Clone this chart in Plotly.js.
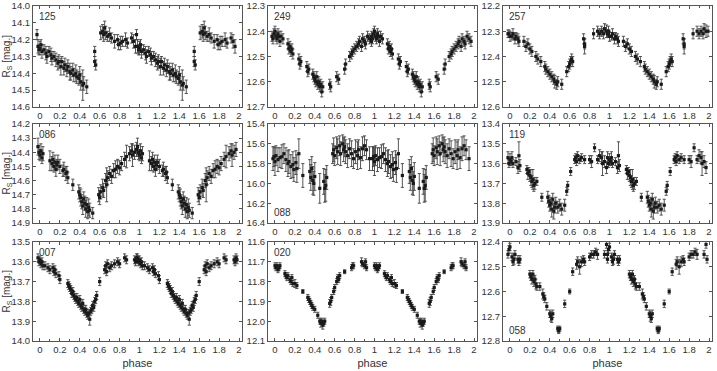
<!DOCTYPE html>
<html><head><meta charset="utf-8">
<script src="https://cdn.plot.ly/plotly-3.0.1.min.js"></script>
<style>html,body{margin:0;padding:0;background:#fff}#chart{width:717px;height:371px}</style>
</head><body><div id="chart"></div>
<script>
// ---- data: one phase cycle per star, shown twice (phase and phase+1) ----
const labels = ["125","249","257","086","088","119","007","020","058"];

const p125 = [-0.03,-0.02,-0.01,0.00,0.01,0.02,0.04,0.06,0.07,0.09,0.11,0.12,0.14,0.16,0.18,0.19,0.21,0.22,0.24,0.25,0.27,0.28,0.30,0.31,0.33,0.34,0.36,0.37,0.39,0.40,0.41,0.43,0.44,0.47,0.55,0.55,0.56,0.61,0.63,0.64,0.65,0.66,0.68,0.70,0.72,0.75,0.78,0.79,0.81,0.83,0.86,0.88,0.92,0.94,0.96];
const m125 = [14.17,14.24,14.26,14.25,14.23,14.27,14.26,14.28,14.30,14.27,14.29,14.31,14.30,14.32,14.34,14.33,14.36,14.33,14.37,14.35,14.38,14.36,14.39,14.40,14.38,14.41,14.40,14.42,14.43,14.41,14.45,14.47,14.46,14.48,14.27,14.33,14.35,14.16,14.15,14.17,14.13,14.16,14.18,14.17,14.19,14.21,14.20,14.23,14.22,14.21,14.20,14.22,14.19,14.21,14.24];
const e125 = [0.03,0.04,0.03,0.04,0.03,0.04,0.03,0.04,0.04,0.03,0.04,0.04,0.03,0.04,0.04,0.04,0.05,0.03,0.04,0.04,0.04,0.04,0.05,0.04,0.04,0.04,0.05,0.04,0.04,0.05,0.05,0.09,0.04,0.04,0.03,0.03,0.03,0.04,0.04,0.04,0.04,0.04,0.03,0.04,0.03,0.04,0.03,0.03,0.04,0.03,0.04,0.03,0.03,0.04,0.04];

const p249 = [-0.03,-0.02,-0.01,0.00,0.01,0.02,0.03,0.04,0.05,0.06,0.08,0.13,0.14,0.15,0.16,0.17,0.18,0.24,0.25,0.26,0.32,0.33,0.34,0.38,0.39,0.40,0.41,0.42,0.43,0.44,0.45,0.46,0.47,0.48,0.55,0.56,0.62,0.64,0.70,0.71,0.75,0.77,0.78,0.80,0.82,0.84,0.85,0.87,0.88,0.90,0.91,0.93,0.95,0.97];
const m249 = [12.42,12.43,12.41,12.40,12.42,12.43,12.41,12.42,12.44,12.42,12.43,12.45,12.47,12.46,12.48,12.47,12.49,12.51,12.53,12.52,12.54,12.56,12.55,12.57,12.58,12.59,12.60,12.58,12.61,12.60,12.62,12.61,12.64,12.62,12.61,12.62,12.58,12.59,12.55,12.53,12.50,12.49,12.48,12.47,12.46,12.45,12.44,12.46,12.43,12.44,12.45,12.42,12.43,12.44];
const e249 = [0.02,0.02,0.02,0.02,0.02,0.02,0.02,0.02,0.02,0.02,0.02,0.02,0.02,0.02,0.02,0.02,0.02,0.02,0.02,0.02,0.02,0.02,0.02,0.02,0.02,0.02,0.02,0.02,0.02,0.02,0.02,0.02,0.02,0.02,0.02,0.02,0.02,0.02,0.02,0.02,0.02,0.02,0.02,0.02,0.02,0.02,0.02,0.02,0.02,0.02,0.02,0.02,0.02,0.02];

const p257 = [-0.02,-0.01,0.00,0.02,0.03,0.05,0.06,0.08,0.09,0.14,0.16,0.18,0.20,0.22,0.26,0.28,0.31,0.35,0.36,0.38,0.40,0.42,0.44,0.45,0.47,0.48,0.52,0.57,0.59,0.60,0.61,0.62,0.63,0.74,0.75,0.75,0.84,0.88,0.90,0.92,0.94,0.95,0.97,0.99];
const m257 = [12.31,12.31,12.32,12.32,12.31,12.33,12.32,12.33,12.34,12.34,12.36,12.35,12.37,12.38,12.40,12.41,12.42,12.44,12.45,12.46,12.47,12.48,12.49,12.50,12.51,12.50,12.51,12.46,12.44,12.43,12.42,12.41,12.42,12.33,12.35,12.36,12.31,12.30,12.31,12.30,12.31,12.29,12.30,12.30];
const e257 = [0.015,0.015,0.02,0.015,0.02,0.02,0.015,0.02,0.02,0.02,0.02,0.02,0.02,0.02,0.02,0.02,0.02,0.02,0.02,0.02,0.02,0.02,0.02,0.025,0.02,0.02,0.02,0.02,0.02,0.02,0.02,0.02,0.02,0.02,0.02,0.03,0.02,0.02,0.02,0.02,0.02,0.02,0.025,0.02];

const p086 = [-0.02,-0.01,0.00,0.01,0.02,0.03,0.10,0.12,0.13,0.14,0.15,0.16,0.17,0.18,0.20,0.23,0.24,0.26,0.27,0.28,0.33,0.39,0.40,0.41,0.42,0.43,0.44,0.45,0.46,0.47,0.48,0.49,0.50,0.53,0.59,0.60,0.61,0.63,0.64,0.66,0.67,0.68,0.70,0.72,0.74,0.76,0.78,0.80,0.82,0.85,0.87,0.90,0.92,0.93,0.95,0.97];
const m086 = [14.36,14.40,14.42,14.39,14.44,14.41,14.46,14.48,14.45,14.50,14.47,14.52,14.49,14.47,14.50,14.53,14.52,14.55,14.54,14.58,14.63,14.68,14.70,14.72,14.75,14.78,14.73,14.76,14.80,14.77,14.82,14.79,14.81,14.83,14.70,14.72,14.68,14.65,14.67,14.60,14.63,14.58,14.55,14.57,14.53,14.52,14.50,14.51,14.48,14.45,14.43,14.41,14.39,14.42,14.40,14.38];
const e086 = [0.06,0.05,0.04,0.05,0.04,0.05,0.07,0.05,0.05,0.04,0.05,0.05,0.04,0.05,0.05,0.04,0.05,0.05,0.04,0.04,0.04,0.05,0.05,0.06,0.05,0.06,0.05,0.05,0.06,0.05,0.05,0.06,0.05,0.04,0.05,0.05,0.05,0.06,0.05,0.05,0.12,0.05,0.05,0.05,0.05,0.06,0.05,0.05,0.05,0.05,0.08,0.05,0.05,0.08,0.05,0.05];

const p088 = [-0.02,-0.01,0.00,0.01,0.03,0.05,0.07,0.09,0.11,0.13,0.14,0.16,0.18,0.19,0.21,0.22,0.24,0.28,0.35,0.36,0.37,0.38,0.39,0.40,0.45,0.49,0.50,0.51,0.52,0.58,0.59,0.60,0.62,0.63,0.65,0.66,0.68,0.69,0.70,0.71,0.73,0.75,0.77,0.79,0.81,0.83,0.84,0.86,0.88,0.90,0.92,0.95];
const m088 = [15.75,15.73,15.78,15.72,15.76,15.74,15.73,15.70,15.76,15.80,15.78,15.83,15.81,15.86,15.79,15.85,15.70,15.92,15.88,15.94,15.85,15.97,16.00,15.93,16.05,15.98,16.05,16.02,15.94,15.70,15.66,15.72,15.64,15.68,15.62,15.70,15.60,15.66,15.63,15.68,15.72,15.65,15.70,15.75,15.68,15.72,15.66,15.74,15.65,15.62,15.66,15.75];
const e088 = [0.12,0.10,0.14,0.10,0.12,0.10,0.12,0.10,0.12,0.13,0.12,0.12,0.13,0.12,0.12,0.14,0.15,0.12,0.12,0.13,0.12,0.14,0.12,0.14,0.15,0.13,0.14,0.16,0.12,0.10,0.12,0.10,0.11,0.13,0.10,0.12,0.09,0.12,0.10,0.12,0.12,0.10,0.13,0.10,0.12,0.14,0.10,0.11,0.12,0.10,0.10,0.12];

const p119 = [-0.02,-0.01,0.00,0.01,0.02,0.03,0.06,0.08,0.09,0.10,0.17,0.18,0.19,0.20,0.21,0.22,0.23,0.24,0.25,0.27,0.32,0.38,0.39,0.40,0.41,0.42,0.43,0.44,0.45,0.46,0.48,0.50,0.52,0.55,0.57,0.58,0.61,0.65,0.66,0.67,0.68,0.70,0.72,0.75,0.80,0.82,0.85,0.88,0.90,0.92,0.93,0.95,0.97];
const m119 = [13.57,13.60,13.58,13.59,13.57,13.60,13.59,13.62,13.56,13.61,13.63,13.65,13.64,13.66,13.67,13.69,13.68,13.71,13.70,13.69,13.77,13.77,13.79,13.81,13.80,13.83,13.78,13.84,13.82,13.80,13.82,13.81,13.83,13.81,13.74,13.71,13.64,13.58,13.57,13.59,13.56,13.58,13.57,13.58,13.58,13.59,13.52,13.58,13.56,13.57,13.60,13.59,13.62];
const e119 = [0.03,0.02,0.03,0.02,0.03,0.02,0.02,0.03,0.07,0.03,0.02,0.03,0.02,0.03,0.04,0.03,0.05,0.03,0.03,0.02,0.02,0.03,0.03,0.03,0.03,0.04,0.03,0.04,0.03,0.03,0.03,0.03,0.03,0.03,0.02,0.02,0.02,0.02,0.02,0.02,0.02,0.02,0.02,0.02,0.02,0.03,0.02,0.02,0.03,0.03,0.06,0.03,0.03];

const p007 = [-0.02,-0.01,0.00,0.01,0.02,0.03,0.05,0.08,0.10,0.13,0.14,0.15,0.16,0.19,0.20,0.28,0.29,0.30,0.31,0.32,0.33,0.34,0.35,0.36,0.37,0.38,0.39,0.40,0.41,0.42,0.43,0.44,0.45,0.46,0.47,0.48,0.49,0.50,0.51,0.52,0.53,0.54,0.55,0.56,0.57,0.60,0.65,0.66,0.67,0.68,0.70,0.72,0.75,0.78,0.80,0.85,0.87,0.95,0.96,0.97,0.98];
const m007 = [13.58,13.60,13.59,13.61,13.60,13.62,13.62,13.63,13.64,13.63,13.65,13.64,13.66,13.67,13.69,13.71,13.72,13.73,13.74,13.76,13.75,13.77,13.78,13.79,13.78,13.80,13.81,13.79,13.82,13.83,13.81,13.84,13.85,13.84,13.86,13.87,13.86,13.89,13.85,13.84,13.82,13.83,13.80,13.79,13.77,13.70,13.64,13.62,13.65,13.61,13.63,13.62,13.61,13.60,13.61,13.58,13.59,13.59,13.60,13.58,13.59];
const e007 = [0.02,0.02,0.02,0.02,0.02,0.02,0.02,0.02,0.02,0.02,0.02,0.02,0.02,0.02,0.02,0.02,0.02,0.02,0.02,0.02,0.02,0.02,0.02,0.02,0.02,0.02,0.02,0.02,0.02,0.02,0.02,0.02,0.02,0.02,0.02,0.02,0.02,0.03,0.02,0.02,0.02,0.02,0.02,0.02,0.02,0.02,0.02,0.02,0.02,0.02,0.02,0.02,0.02,0.02,0.02,0.02,0.02,0.02,0.02,0.02,0.02];

const p020 = [0.00,0.01,0.02,0.03,0.04,0.05,0.10,0.11,0.12,0.13,0.15,0.16,0.17,0.18,0.20,0.22,0.28,0.33,0.34,0.35,0.36,0.37,0.38,0.40,0.43,0.45,0.46,0.47,0.48,0.49,0.50,0.55,0.56,0.57,0.59,0.60,0.62,0.63,0.64,0.65,0.70,0.77,0.78,0.79,0.87,0.88,0.90,0.91,0.92];
const m020 = [11.72,11.73,11.72,11.74,11.73,11.72,11.76,11.77,11.78,11.77,11.79,11.80,11.78,11.81,11.81,11.82,11.85,11.88,11.89,11.90,11.91,11.92,11.93,11.94,11.97,12.00,12.01,12.00,12.02,12.01,12.00,11.91,11.90,11.88,11.85,11.83,11.80,11.78,11.79,11.77,11.75,11.73,11.72,11.72,11.70,11.71,11.72,11.70,11.73];
const e020 = [0.015,0.015,0.015,0.015,0.015,0.015,0.015,0.015,0.015,0.015,0.015,0.015,0.015,0.015,0.02,0.015,0.01,0.015,0.015,0.015,0.015,0.015,0.015,0.015,0.015,0.015,0.02,0.015,0.02,0.015,0.015,0.02,0.02,0.015,0.015,0.015,0.015,0.015,0.015,0.015,0.01,0.015,0.015,0.015,0.02,0.015,0.015,0.015,0.015];

const p058 = [-0.02,-0.01,0.00,0.02,0.03,0.04,0.05,0.08,0.09,0.10,0.20,0.21,0.22,0.23,0.24,0.25,0.26,0.27,0.30,0.33,0.34,0.35,0.37,0.40,0.41,0.42,0.43,0.48,0.49,0.50,0.55,0.60,0.63,0.67,0.68,0.70,0.72,0.74,0.75,0.80,0.82,0.84,0.86,0.88,0.95,0.97,0.98];
const m058 = [12.45,12.43,12.42,12.46,12.48,12.47,12.45,12.47,12.48,12.47,12.53,12.54,12.55,12.53,12.56,12.55,12.57,12.58,12.58,12.61,12.62,12.63,12.66,12.69,12.70,12.71,12.69,12.75,12.76,12.75,12.65,12.60,12.52,12.49,12.48,12.50,12.48,12.47,12.48,12.46,12.45,12.45,12.44,12.45,12.45,12.41,12.47];
const e058 = [0.015,0.015,0.015,0.015,0.015,0.02,0.015,0.015,0.015,0.015,0.015,0.015,0.02,0.015,0.02,0.015,0.02,0.015,0.015,0.02,0.015,0.015,0.015,0.015,0.02,0.015,0.015,0.01,0.01,0.01,0.015,0.01,0.015,0.02,0.02,0.03,0.02,0.015,0.015,0.015,0.015,0.015,0.015,0.02,0.015,0.015,0.015];

const phases = [p125,p249,p257,p086,p088,p119,p007,p020,p058];
const mags   = [m125,m249,m257,m086,m088,m119,m007,m020,m058];
const errs   = [e125,e249,e257,e086,e088,e119,e007,e020,e058];
const yRanges = [[14.6,14.0],[12.7,12.3],[12.6,12.2],[14.9,14.2],[16.4,15.4],[13.9,13.4],[14.0,13.5],[12.1,11.6],[12.8,12.4]];
const yDticks = [0.1,0.1,0.1,0.1,0.2,0.1,0.1,0.1,0.1];
const xTitle = "phase";
const yTitle = "R<sub>S</sub> [mag.]";

// ---- layout geometry (pixels) ----
const W = 717, H = 371;
const colPx = [[33,242],[268,477],[503,712]];
const rowPx = [[6,107],[124,223],[242,341]];
const labelBottom = [false,false,false,false,true,false,false,false,true];

const traces = [];
const layout = {
  width: W, height: H, margin: {l:0,r:0,t:0,b:0},
  paper_bgcolor: '#fff', plot_bgcolor: '#fff', showlegend: false,
  font: {family: 'Liberation Sans, Arial, sans-serif', size: 9.5, color: '#333'},
  annotations: []
};
const axColor = '#555';
for (let i = 0; i < 9; i++) {
  const r = Math.floor(i/3), c = i % 3, n = i === 0 ? '' : String(i+1);
  const x = phases[i].concat(phases[i].map(v => v + 1));
  const y = mags[i].concat(mags[i]);
  const e = errs[i].concat(errs[i]);
  traces.push({
    type: 'scatter', mode: 'markers', x: x, y: y,
    xaxis: 'x' + n, yaxis: 'y' + n,
    marker: {symbol: 'square', size: 3.2, color: '#1a1a1a'},
    error_y: {type: 'data', array: e, visible: true, color: '#444', thickness: 0.9, width: 1.6}
  });
  const xa = {
    domain: [colPx[c][0]/W, colPx[c][1]/W], anchor: 'y' + n,
    range: [-0.07, 2.03], dtick: 0.2, tick0: 0,
    ticks: 'inside', ticklen: 3, tickcolor: axColor,
    minor: {dtick: 0.1, ticks: 'inside', ticklen: 2, tickcolor: axColor},
    showline: true, linecolor: axColor, linewidth: 1, mirror: 'ticks',
    showgrid: false, zeroline: false
  };
  if (r === 2) xa.title = {text: xTitle, font: {size: 11, color: '#333'}, standoff: 4};
  layout['xaxis' + n] = xa;
  layout['yaxis' + n] = {
    domain: [1 - rowPx[r][1]/H, 1 - rowPx[r][0]/H], anchor: 'x' + n,
    range: yRanges[i], dtick: yDticks[i], tickformat: '.1f',
    ticks: 'inside', ticklen: 3, tickcolor: axColor,
    showline: true, linecolor: axColor, linewidth: 1, mirror: 'ticks',
    showgrid: false, zeroline: false
  };
  layout.annotations.push({
    text: labels[i], showarrow: false, xref: 'paper', yref: 'paper',
    x: (colPx[c][0] + 4)/W, xanchor: 'left',
    y: labelBottom[i] ? 1 - (rowPx[r][1] - 3)/H : 1 - (rowPx[r][0] + 3)/H,
    yanchor: labelBottom[i] ? 'bottom' : 'top',
    font: {size: 10, color: '#333'}
  });
  if (c === 0) {
    layout.annotations.push({
      text: yTitle, showarrow: false, xref: 'paper', yref: 'paper',
      x: 6/W, xanchor: 'center', y: 1 - (rowPx[r][0] + rowPx[r][1])/2/H, yanchor: 'middle',
      textangle: -90, font: {size: 10, color: '#333'}
    });
  }
}
Plotly.newPlot('chart', traces, layout, {staticPlot: true, displayModeBar: false});
</script>
</body></html>
